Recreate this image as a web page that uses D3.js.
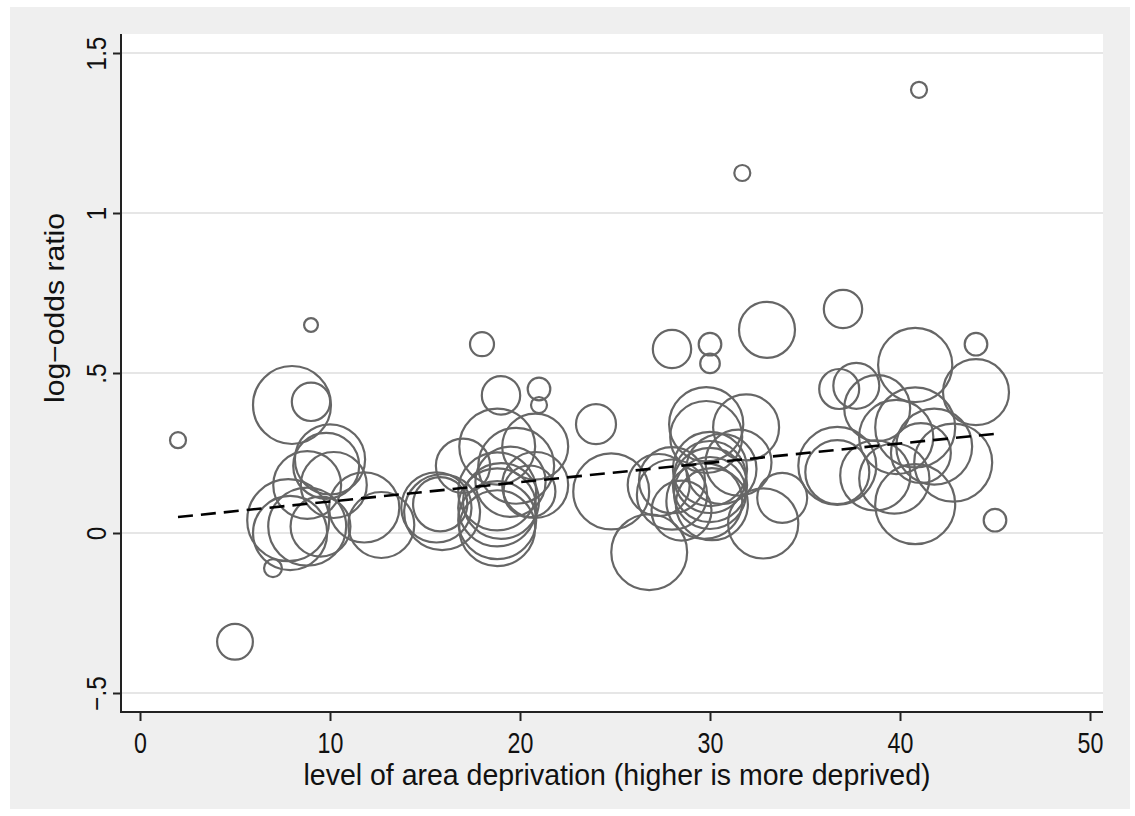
<!DOCTYPE html>
<html>
<head>
<meta charset="utf-8">
<script src="https://cdn.jsdelivr.net/npm/d3@7"></script>
<style>
  html, body { margin: 0; padding: 0; background: #ffffff; }
  svg { display: block; }
  text { font-family: "Liberation Sans", Arial, Helvetica, sans-serif; fill: #111; }
</style>
</head>
<body>
<svg id="chart" width="1135" height="816"></svg>
<script>
// ---- data ----
const deprivation = [2, 5, 7, 9, 8, 9, 10, 9.8, 8.8, 10.2, 7.8, 8.8, 9.5, 7.9, 11.8, 12.7, 15.6, 15.9, 15.8, 17,
  18, 19, 21, 21, 24, 18.8, 20.8, 19.8, 18.8, 19, 18.8, 18.8, 18.8, 20.8, 20.5, 19.5, 24.8, 26.8,
  28, 30, 30, 33, 37, 31.7, 41, 29.8, 29.8, 31.9, 27.3, 28, 30, 30, 30, 30, 29.7, 30.1, 30.6, 32.8, 33.8, 28.5,
  40.8, 44, 44, 36.8, 37.7, 38.8, 40.8, 39.8, 42.8, 41.8, 36.7, 36.7, 38.7, 39.7, 40.8, 45, 41.1, 31.5, 28];
const logOdds = [0.29, -0.34, -0.11, 0.65, 0.40, 0.41, 0.23, 0.21, 0.15, 0.15, 0.04, 0.02, 0.02, 0.00, 0.08, 0.025, 0.08, 0.065, 0.09, 0.21,
  0.59, 0.43, 0.45, 0.40, 0.34, 0.27, 0.27, 0.21, 0.13, 0.10, 0.08, 0.04, 0.015, 0.15, 0.13, 0.16, 0.13, -0.06,
  0.575, 0.59, 0.53, 0.635, 0.70, 1.125, 1.385, 0.34, 0.30, 0.33, 0.15, 0.165, 0.20, 0.175, 0.15, 0.125, 0.10, 0.09, 0.20, 0.03, 0.11, 0.07,
  0.525, 0.59, 0.44, 0.45, 0.46, 0.39, 0.33, 0.30, 0.22, 0.27, 0.21, 0.19, 0.18, 0.17, 0.09, 0.04, 0.25, 0.22, 0.12];
const weight = [4, 20, 5, 3, 95, 23, 77, 68, 72, 68, 105, 95, 56, 86, 77, 68, 77, 90, 46, 46,
  9, 23, 8, 4, 25, 90, 68, 90, 95, 90, 95, 95, 90, 68, 42, 77, 90, 90,
  23, 8, 6, 49, 23, 4, 4, 86, 81, 68, 60, 68, 86, 81, 86, 81, 90, 81, 77, 77, 39, 56,
  86, 8, 68, 25, 33, 68, 100, 86, 95, 90, 95, 64, 77, 77, 100, 8, 56, 68, 77];
const fitX = [2, 45];
const fitY = [0.05, 0.31];
const xTicks = [0, 10, 20, 30, 40, 50];
const xTickLabels = ["0", "10", "20", "30", "40", "50"];
const yTicks = [-0.5, 0, 0.5, 1, 1.5];
const yTickLabels = ["\u2212.5", "0", ".5", "1", "1.5"];
const xTitle = "level of area deprivation (higher is more deprived)";
const yTitle = "log\u2212odds ratio";

// ---- layout ----
const svg = d3.select("#chart");
const plot = { left: 121, right: 1103, top: 34, bottom: 712 };

svg.append("rect").attr("x", 10).attr("y", 7).attr("width", 1120).attr("height", 802)
  .attr("fill", "#efefef");
svg.append("rect").attr("x", plot.left).attr("y", plot.top)
  .attr("width", plot.right - plot.left).attr("height", plot.bottom - plot.top)
  .attr("fill", "#ffffff");

const x = d3.scaleLinear().domain([0, 50]).range([140, 1090]);
const y = d3.scaleLinear().domain([-0.5, 1.5]).range([693, 53]);
const r = d3.scaleSqrt().domain([0, 100]).range([0, 40]);

// gridlines
svg.append("g").selectAll("line").data(yTicks).join("line")
  .attr("x1", plot.left).attr("x2", plot.right)
  .attr("y1", d => y(d)).attr("y2", d => y(d))
  .attr("stroke", "#e6e6e6").attr("stroke-width", 2);

// circles
const pts = deprivation.map((d, i) => ({ x: d, y: logOdds[i], w: weight[i] }));
svg.append("g").selectAll("circle").data(pts).join("circle")
  .attr("cx", d => x(d.x)).attr("cy", d => y(d.y)).attr("r", d => r(d.w))
  .attr("fill", "none").attr("stroke", "#666666").attr("stroke-width", 2.2);

// fitted line
const line = d3.line().x(d => x(d[0])).y(d => y(d[1]));
svg.append("path").datum(fitX.map((d, i) => [d, fitY[i]]))
  .attr("d", line).attr("fill", "none").attr("stroke", "#000")
  .attr("stroke-width", 2.6).attr("stroke-dasharray", "15,8");

// axes
const xAxis = d3.axisBottom(x).tickValues(xTicks).tickSize(9)
  .tickFormat((d, i) => xTickLabels[i]);
const gx = svg.append("g").attr("transform", `translate(0,${plot.bottom})`).call(xAxis);
gx.select(".domain").remove();
gx.selectAll(".tick line").attr("stroke", "#222").attr("stroke-width", 2);
gx.selectAll(".tick text").attr("font-size", 29).attr("y", 0).attr("dy", null)
  .attr("fill", "#111")
  .attr("font-family", "Liberation Sans, Arial, sans-serif")
  .attr("transform", "translate(0,41) scale(0.8,1)");

const yAxis = d3.axisLeft(y).tickValues(yTicks).tickSize(8)
  .tickFormat((d, i) => yTickLabels[i]);
const gy = svg.append("g").attr("transform", `translate(${plot.left},0)`).call(yAxis);
gy.select(".domain").remove();
gy.selectAll(".tick line").attr("stroke", "#222").attr("stroke-width", 2);
gy.selectAll(".tick text")
  .attr("x", null).attr("dy", null).attr("y", 0)
  .attr("text-anchor", "middle").attr("font-size", 27).attr("fill", "#111")
  .attr("font-family", "Liberation Sans, Arial, sans-serif")
  .attr("transform", "translate(-15,0) rotate(-90) scale(0.9,1)");

// axis lines
svg.append("line").attr("x1", plot.left).attr("x2", plot.left)
  .attr("y1", plot.top).attr("y2", plot.bottom + 1)
  .attr("stroke", "#222").attr("stroke-width", 2);
svg.append("line").attr("x1", plot.left - 1).attr("x2", plot.right)
  .attr("y1", plot.bottom).attr("y2", plot.bottom)
  .attr("stroke", "#222").attr("stroke-width", 2);

// titles
svg.append("text").attr("x", 617).attr("y", 785).attr("text-anchor", "middle")
  .attr("font-size", 29).attr("textLength", 627).attr("lengthAdjust", "spacingAndGlyphs")
  .text(xTitle);
svg.append("text").attr("transform", "translate(64,308) rotate(-90)").attr("text-anchor", "middle")
  .attr("font-size", 27).attr("textLength", 190).attr("lengthAdjust", "spacingAndGlyphs")
  .text(yTitle);
</script>
</body>
</html>
